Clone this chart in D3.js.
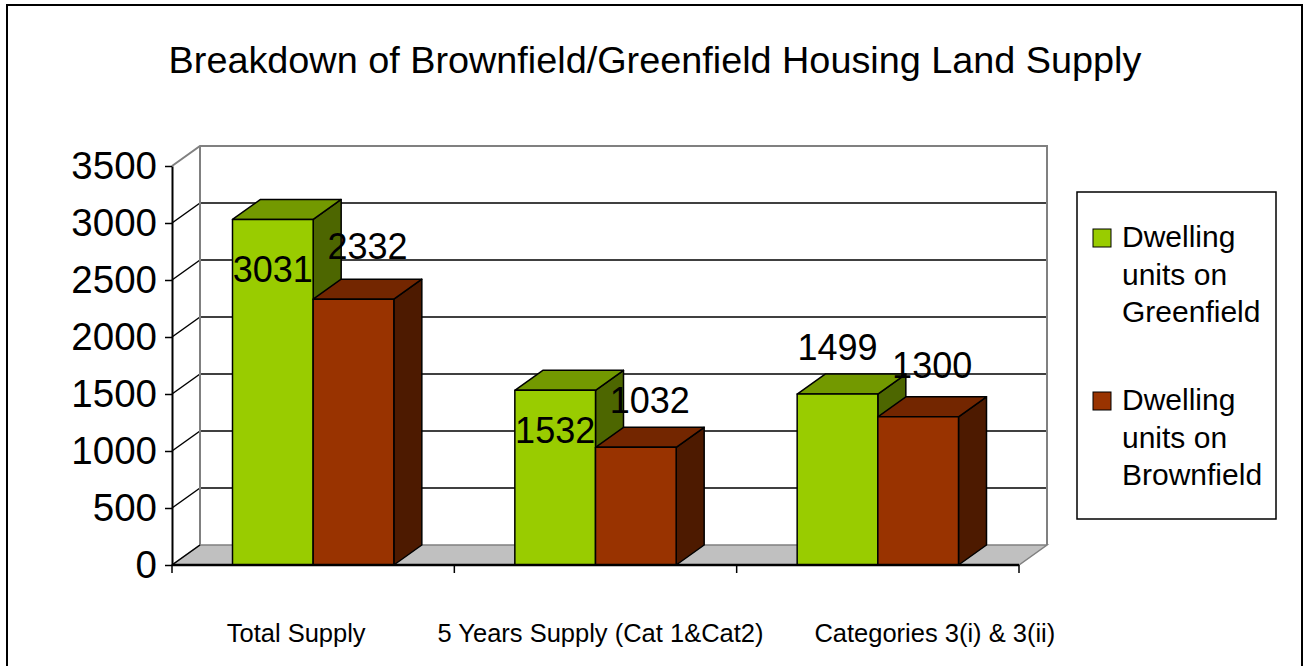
<!DOCTYPE html>
<html>
<head>
<meta charset="utf-8">
<script src="https://cdn.jsdelivr.net/npm/d3@7"></script>
<style>
  body { margin: 0; background: #fff; }
  svg { display: block; font-family: "Liberation Sans", Arial, sans-serif; }
</style>
</head>
<body>
<svg id="chart" width="1309" height="666"></svg>
<script>
var categories = ["Total Supply", "5 Years Supply (Cat 1&Cat2)", "Categories 3(i) & 3(ii)"];
var seriesNames = ["Dwelling units on Greenfield", "Dwelling units on Brownfield"];
var greenfield = [3031, 1532, 1499];
var brownfield = [2332, 1032, 1300];
var yTicks = [0, 500, 1000, 1500, 2000, 2500, 3000, 3500];

var colors = [
  { front: "#99cc00", top: "#739900", side: "#4d6600" },
  { front: "#993300", top: "#732600", side: "#4d1a00" }
];

var svg = d3.select("#chart");
var pLeft = 172, pRight = 1019, pBottom = 565, pTop = 166;
var dx = 28, dy = -20;   // depth offset of the 3d box

var x0 = d3.scaleBand().domain(categories).range([pLeft, pRight]);
var x1 = d3.scaleBand().domain([0, 1]).range([0, x0.bandwidth()]).paddingOuter(0.75);
var y = d3.scaleLinear().domain([0, 3500]).range([pBottom, pTop]);

// outer frame
svg.append("rect").attr("x", 7).attr("y", 5).attr("width", 1295).attr("height", 720)
  .attr("fill", "none").attr("stroke", "#000").attr("stroke-width", 2);

// title
svg.append("text").attr("x", 655).attr("y", 73).attr("text-anchor", "middle")
  .style("font-size", "37.8px").text("Breakdown of Brownfield/Greenfield Housing Land Supply");

// floor
function pts(a) { return a.map(function(p) { return p.join(","); }).join(" "); }
svg.append("polygon")
  .attr("points", pts([[pLeft, pBottom], [pRight, pBottom], [pRight + dx, pBottom + dy], [pLeft + dx, pBottom + dy]]))
  .attr("fill", "#c0c0c0").attr("stroke", "#808080").attr("stroke-width", 1.5);

// grid on back wall and side wall
var inner = yTicks.filter(function(d) { return d > 0 && d < 3500; });
var grid = svg.append("g");
grid.selectAll(".gb").data(inner).enter()
  .append("line")
  .attr("x1", pLeft + dx).attr("x2", pRight + dx)
  .attr("y1", function(d) { return y(d) + dy; }).attr("y2", function(d) { return y(d) + dy; })
  .attr("stroke", "#000").attr("stroke-width", 1.5);
grid.selectAll(".gs").data(inner).enter()
  .append("line")
  .attr("x1", pLeft).attr("x2", pLeft + dx)
  .attr("y1", function(d) { return y(d); }).attr("y2", function(d) { return y(d) + dy; })
  .attr("stroke", "#000").attr("stroke-width", 1.5);
// wall edges
grid.append("polyline")
  .attr("points", pts([[pLeft, y(3500)], [pLeft + dx, y(3500) + dy], [pRight + dx, y(3500) + dy], [pRight + dx, pBottom + dy]]))
  .attr("fill", "none").attr("stroke", "#808080").attr("stroke-width", 2);
grid.append("line")
  .attr("x1", pLeft + dx).attr("x2", pLeft + dx).attr("y1", y(3500) + dy).attr("y2", pBottom + dy)
  .attr("stroke", "#808080").attr("stroke-width", 2);
grid.append("line")
  .attr("x1", pLeft).attr("x2", pLeft + dx).attr("y1", pBottom).attr("y2", pBottom + dy)
  .attr("stroke", "#000").attr("stroke-width", 1.5);

// bars
var rows = [];
categories.forEach(function(c, i) {
  rows.push({ cat: c, s: 0, v: greenfield[i], i: i });
  rows.push({ cat: c, s: 1, v: brownfield[i], i: i });
});

var bars = svg.append("g").selectAll("g").data(rows).enter().append("g")
  .attr("stroke", "#000").attr("stroke-width", 1.5).attr("stroke-linejoin", "round");
bars.each(function(d) {
  var g = d3.select(this);
  var xa = x0(d.cat) + x1(d.s), xb = xa + x1.bandwidth();
  var yt = y(d.v);
  g.append("polygon").attr("fill", colors[d.s].side)
    .attr("points", pts([[xb, pBottom], [xb + dx, pBottom + dy], [xb + dx, yt + dy], [xb, yt]]));
  g.append("polygon").attr("fill", colors[d.s].top)
    .attr("points", pts([[xa, yt], [xa + dx, yt + dy], [xb + dx, yt + dy], [xb, yt]]));
  g.append("rect").attr("fill", colors[d.s].front)
    .attr("x", xa).attr("y", yt).attr("width", xb - xa).attr("height", pBottom - yt);
});

// value labels (placed where the original renderer put them)
var labelDy = [[63, 53, -34], [-40, -34, -39]];
svg.append("g").selectAll("text").data(rows).enter().append("text")
  .attr("text-anchor", "middle").style("font-size", "36px")
  .attr("x", function(d) { return x0(d.cat) + x1(d.s) + x1.bandwidth() / 2 + (d.s ? 14 : 0); })
  .attr("y", function(d) { return y(d.v) + labelDy[d.s][d.i]; })
  .text(function(d) { return d.v; });

// y axis
var yAxis = svg.append("g").attr("transform", "translate(" + pLeft + ",0)")
  .call(d3.axisLeft(y).tickValues(yTicks).tickFormat(d3.format("d")).tickSize(7).tickPadding(8).tickSizeOuter(0));
yAxis.select(".domain").attr("stroke", "#000").attr("stroke-width", 2);
yAxis.selectAll(".tick line").attr("stroke", "#000").attr("stroke-width", 1.5);
yAxis.selectAll(".tick text").style("font-size", "38.5px").style("font-family", "Liberation Sans, Arial, sans-serif").attr("fill", "#000");

// x axis line and boundary ticks
svg.append("line").attr("x1", pLeft).attr("x2", pRight).attr("y1", pBottom).attr("y2", pBottom)
  .attr("stroke", "#000").attr("stroke-width", 2.5);
svg.selectAll(".xt").data(d3.range(categories.length + 1)).enter().append("line")
  .attr("x1", function(i) { return pLeft + i * x0.step(); })
  .attr("x2", function(i) { return pLeft + i * x0.step(); })
  .attr("y1", pBottom).attr("y2", pBottom + 8)
  .attr("stroke", "#000").attr("stroke-width", 1.5);

var catShift = [-17, 5, 57];
svg.append("g").selectAll("text").data(categories).enter().append("text")
  .attr("text-anchor", "middle").style("font-size", "25.5px")
  .attr("x", function(d, i) { return x0(d) + x0.bandwidth() / 2 + catShift[i]; })
  .attr("y", 642)
  .text(function(d) { return d; });

// legend
var lg = svg.append("g");
lg.append("rect").attr("x", 1077).attr("y", 192).attr("width", 199).attr("height", 327)
  .attr("fill", "#fff").attr("stroke", "#000").attr("stroke-width", 1.5);
var legendLines = [["Dwelling", "units on", "Greenfield"], ["Dwelling", "units on", "Brownfield"]];
var entries = lg.selectAll("g").data(seriesNames).enter().append("g")
  .attr("transform", function(d, i) { return "translate(0," + (i * 163) + ")"; });
entries.append("rect").attr("x", 1093).attr("y", 229).attr("width", 18).attr("height", 18)
  .attr("fill", function(d, i) { return colors[i].front; }).attr("stroke", "#000").attr("stroke-width", 1);
entries.each(function(d, i) {
  var t = d3.select(this).append("text").style("font-size", "30px");
  legendLines[i].forEach(function(s, k) {
    t.append("tspan").attr("x", 1122).attr("y", 247 + k * 37.5).text(s);
  });
});
</script>
</body>
</html>
